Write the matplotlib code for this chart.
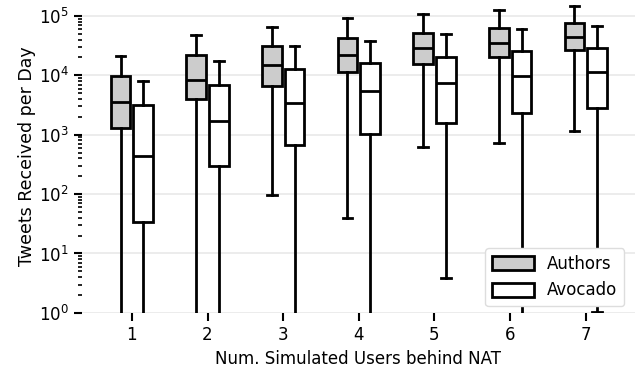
import matplotlib
matplotlib.use("Agg")
import matplotlib.pyplot as plt
from matplotlib.patches import Patch

plt.rcParams["font.family"] = ["DejaVu Sans"]

users = [1, 2, 3, 4, 5, 6, 7]

# five-number summaries (low whisker, q1, median, q3, high whisker)
authors_lo  = [0.1, 0.1, 95, 40, 620, 735, 1170]
authors_q1  = [1290, 4060, 6600, 11300, 15800, 20000, 26400]
authors_med = [3560, 8500, 14800, 21900, 28400, 35500, 44300]
authors_q3  = [9600, 21900, 30800, 42300, 52000, 62000, 76000]
authors_hi  = [21400, 48000, 66000, 91000, 107000, 125000, 148000]

avocado_lo  = [0.1, 0.1, 0.1, 0.1, 3.9, 0.1, 1.02]
avocado_q1  = [34, 293, 680, 1030, 1580, 2280, 2860]
avocado_med = [436, 1730, 3370, 5400, 7300, 9700, 11400]
avocado_q3  = [3140, 7000, 12900, 16100, 20300, 25300, 28800]
avocado_hi  = [8100, 17400, 31000, 37700, 49000, 60000, 69000]


def make_stats(lo, q1, med, q3, hi):
    return [dict(whislo=a, q1=b, med=c, q3=d, whishi=e, fliers=[])
            for a, b, c, d, e in zip(lo, q1, med, q3, hi)]


fig = plt.figure(figsize=(6.35, 3.76), dpi=100)
ax = fig.add_axes([0.129, 0.168, 0.871, 0.832])

lw = 2.0
styles = dict(
    showfliers=False, patch_artist=True, widths=0.26,
    whiskerprops=dict(color="black", linewidth=lw),
    capprops=dict(color="black", linewidth=lw),
    medianprops=dict(color="black", linewidth=lw),
)

ax.bxp(make_stats(authors_lo, authors_q1, authors_med, authors_q3, authors_hi),
       positions=[u - 0.15 for u in users],
       boxprops=dict(facecolor="#cccccc", edgecolor="black", linewidth=lw),
       **styles)
ax.bxp(make_stats(avocado_lo, avocado_q1, avocado_med, avocado_q3, avocado_hi),
       positions=[u + 0.15 for u in users],
       boxprops=dict(facecolor="white", edgecolor="black", linewidth=lw),
       **styles)

ax.set_yscale("log")
ax.set_ylim(1, 1.86e5)
ax.set_xlim(0.34, 7.65)
ax.set_xticks(users)
ax.set_xticklabels([str(u) for u in users])

for s in ax.spines.values():
    s.set_visible(False)
ax.grid(axis="y", which="major", color="#ebebeb", linewidth=1.3)
ax.set_axisbelow(True)

ax.tick_params(axis="both", which="major", labelsize=12, length=6, width=1.5)
ax.tick_params(axis="y", which="minor", length=3, width=1.2)

ax.set_ylabel("Tweets Received per Day", fontsize=12.5, labelpad=2)
ax.set_xlabel("Num. Simulated Users behind NAT", fontsize=12)

handles = [Patch(facecolor="#cccccc", edgecolor="black", linewidth=lw, label="Authors"),
           Patch(facecolor="white", edgecolor="black", linewidth=lw, label="Avocado")]
ax.legend(handles=handles, loc="lower right", fontsize=12, handlelength=2.5,
          handleheight=0.9, framealpha=1, edgecolor="#dddddd",
          bbox_to_anchor=(0.995, -0.005))

fig.savefig("out.png", dpi=100)
